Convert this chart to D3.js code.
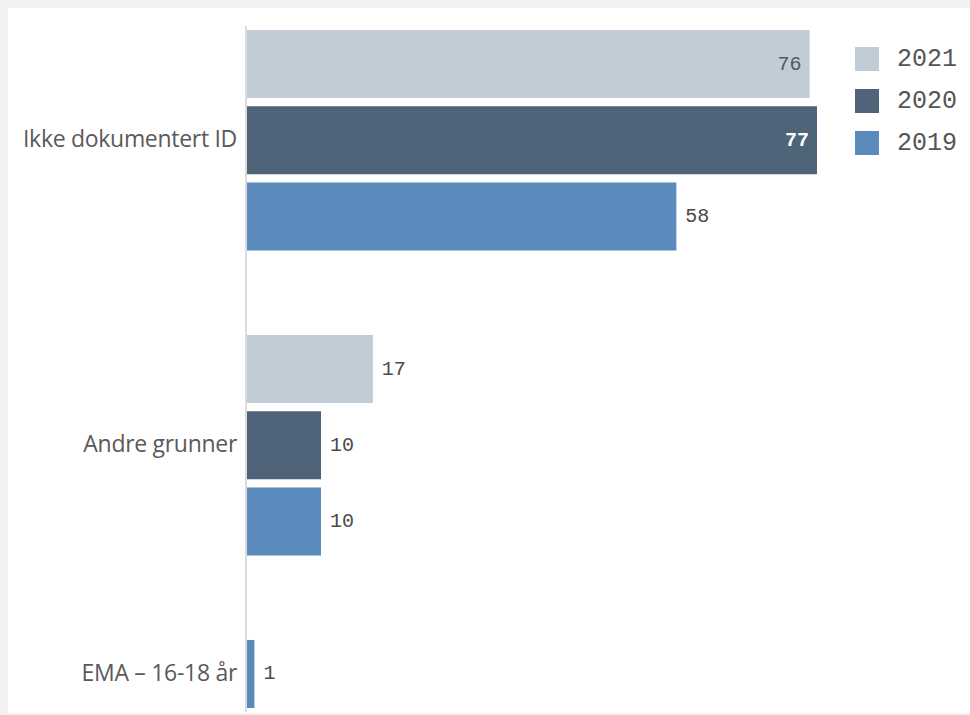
<!DOCTYPE html>
<html><head><meta charset="utf-8">
<script src="https://cdn.jsdelivr.net/npm/d3@7"></script>
<style>body{margin:0;background:#fff;}svg{display:block;}</style>
</head><body>
<svg id="c" width="970" height="715"></svg>
<script>
const categories = ["Ikke dokumentert ID", "Andre grunner", "EMA – 16-18 år"];
const seriesNames = ["2021", "2020", "2019"];
const values2021 = [76, 17, null];
const values2020 = [77, 10, null];
const values2019 = [58, 10, 1];
const colors = ["#c2ccd7", "#4f6379", "#5a8bbc"];

const seriesValues = [values2021, values2020, values2019];
const svg = d3.select("#c");

// frame
svg.append("rect").attr("x",0).attr("y",0).attr("width",970).attr("height",715).attr("fill","#f1f1f1");
svg.append("rect").attr("x",8).attr("y",8).attr("width",962).attr("height",705).attr("fill","#fff");

// build slots: each category's non-null bars, with one spacer slot between categories
const slots = [];
categories.forEach((c, ci) => {
  seriesNames.forEach((s, si) => {
    const v = seriesValues[si][ci];
    if (v != null) slots.push({key: c + "|" + s, cat: c, series: s, si, value: v});
  });
  if (ci < categories.length - 1) slots.push({key: "gap" + ci, gap: true});
});

const y = d3.scaleBand().domain(slots.map(d => d.key)).range([30, 708]).paddingInner(0.108).paddingOuter(0);
const x = d3.scaleLinear().domain([0, 77]).range([247, 817]);

const bars = slots.filter(d => !d.gap);

svg.selectAll("rect.bar").data(bars).enter().append("rect")
  .attr("class","bar")
  .attr("x", x(0))
  .attr("y", d => y(d.key))
  .attr("width", d => x(d.value) - x(0))
  .attr("height", y.bandwidth())
  .attr("fill", d => colors[d.si]);

// value labels
const mono = "'Liberation Mono', 'Courier New', monospace";
svg.selectAll("text.val").data(bars).enter().append("text")
  .attr("class","val")
  .attr("font-family", mono)
  .attr("font-size", 20)
  .attr("dominant-baseline","central")
  .attr("y", d => y(d.key) + y.bandwidth()/2)
  .each(function(d){
    const inside = d.value > 70;
    const t = d3.select(this);
    if (inside) {
      t.attr("x", x(d.value) - 8).attr("text-anchor","end")
       .attr("fill", d.si === 1 ? "#ffffff" : "#555a60")
       .attr("font-weight", d.si === 1 ? "bold" : "normal");
    } else {
      t.attr("x", x(d.value) + 9).attr("text-anchor","start").attr("fill","#4a4a4a");
    }
    t.text(d.value);
  });

// axis line
svg.append("line").attr("x1",246).attr("x2",246).attr("y1",26).attr("y2",712)
  .attr("stroke","#cfcfcf").attr("stroke-width",1.5);

// category labels
categories.forEach(c => {
  const cb = bars.filter(b => b.cat === c);
  const top = d3.min(cb, b => y(b.key));
  const bot = d3.max(cb, b => y(b.key) + y.bandwidth());
  svg.append("text")
    .attr("x", 237).attr("y", (top + bot)/2 - 2)
    .attr("text-anchor","end").attr("dominant-baseline","central")
    .attr("font-family","'Open Sans', sans-serif").attr("font-size",23)
    .attr("letter-spacing", -0.3)
    .attr("fill","#5a5a5a").text(c);
});

// legend
const lg = svg.append("g").attr("transform","translate(855,47)");
seriesNames.forEach((s, i) => {
  lg.append("rect").attr("x",0).attr("y", i*42).attr("width",24).attr("height",24).attr("fill", colors[i]);
  lg.append("text").attr("x",42).attr("y", i*42 + 12).attr("dominant-baseline","central")
    .attr("font-family", mono).attr("font-size",25).attr("fill","#555").text(s);
});
</script>
</body></html>
